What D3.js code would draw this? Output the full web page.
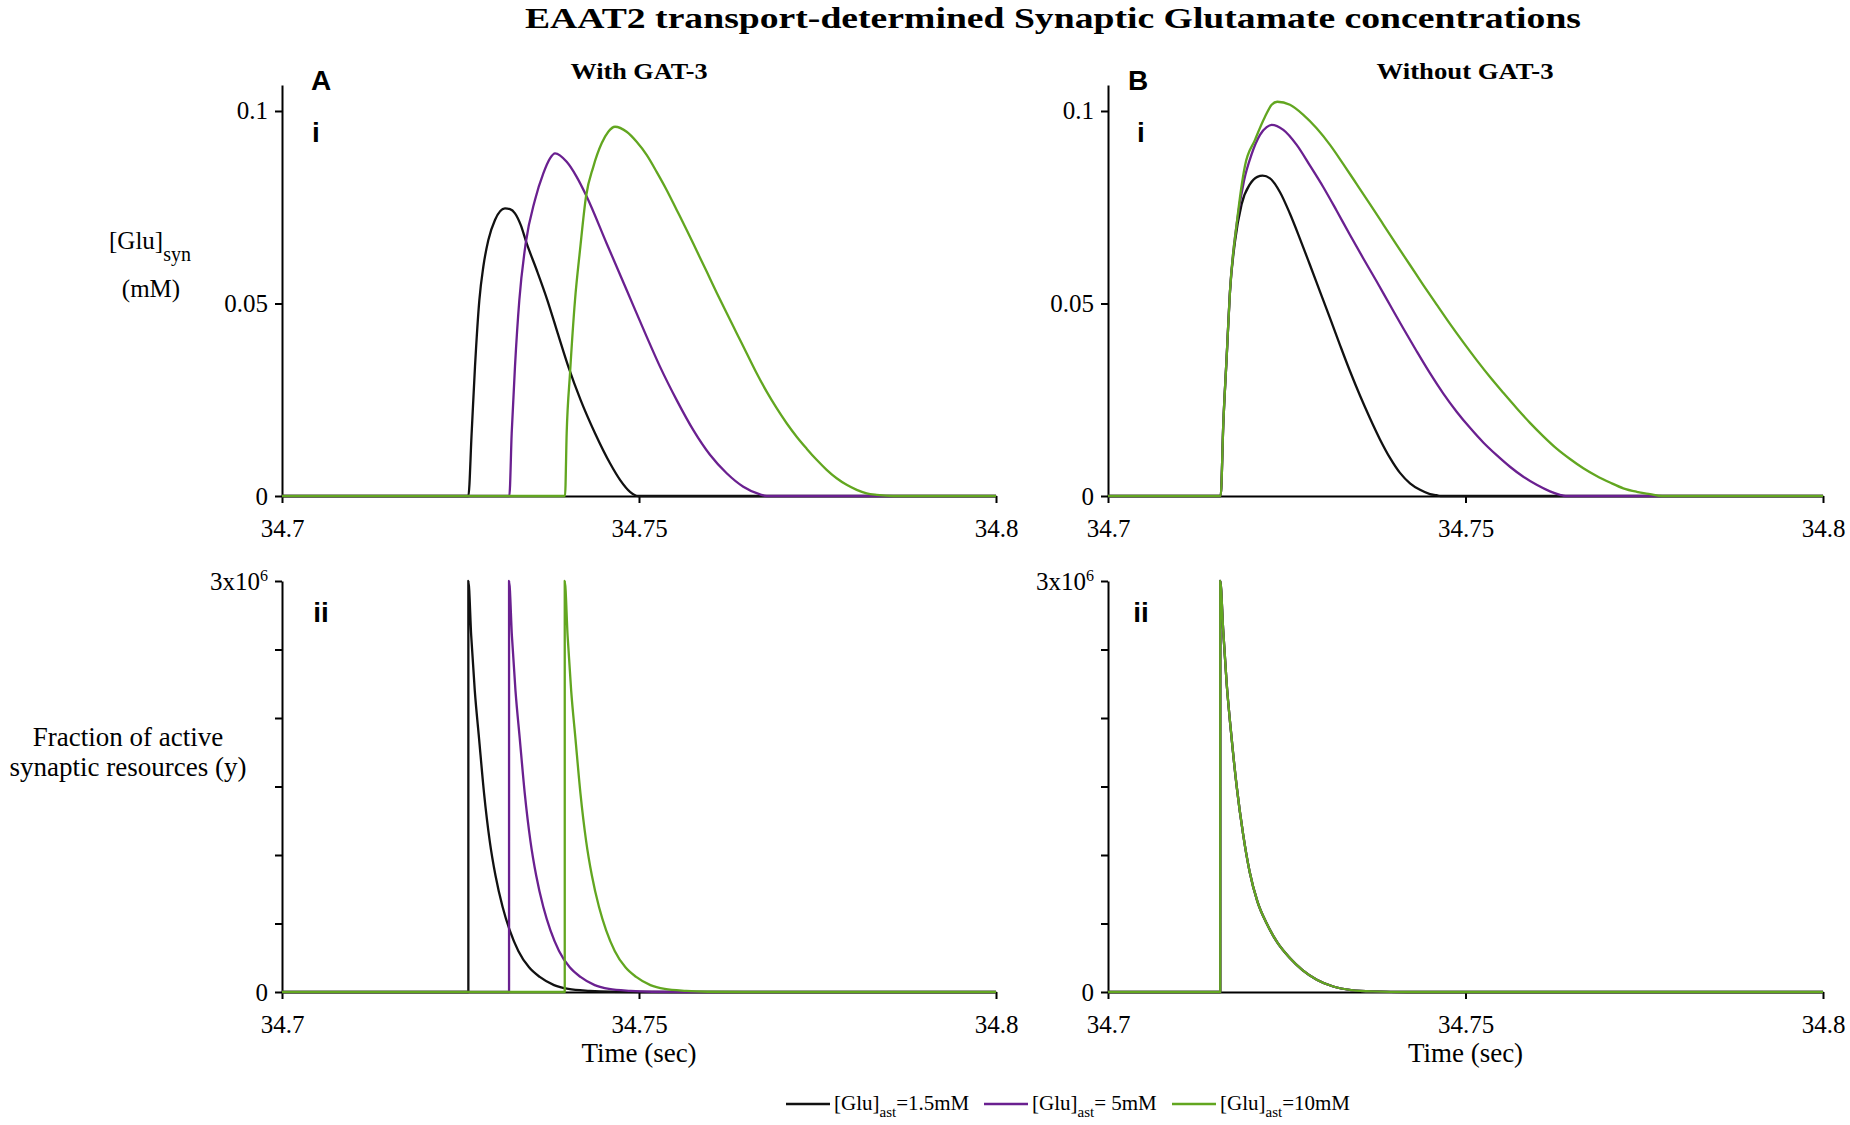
<!DOCTYPE html>
<html>
<head>
<meta charset="utf-8">
<script src="https://cdn.jsdelivr.net/npm/d3@7"></script>
<style>
  body { margin: 0; background: #fff; }
  svg { display: block; }
</style>
</head>
<body>
<svg id="chart" width="1850" height="1125"></svg>
<script>
// values: [time (s), value]
var timeTicks = [34.7, 34.75, 34.8]
var gluTicks = [0, 0.05, 0.1]
var activeTicks = [0, 500000, 1000000, 1500000, 2000000, 2500000, 3000000]
var legendLabels = ["=1.5mM", "= 5mM", "=10mM"]

// A(i) : [Glu]syn with GAT-3
var gluWithBlack = [[34.7,0],[34.7261,0],[34.72656,0.0163],[34.72703,0.0336],[34.72764,0.0509],[34.7282,0.0596],
  [34.7289,0.0665],[34.72983,0.0717],[34.73123,0.0747],[34.73193,0.0745],[34.73263,0.0734],[34.73343,0.0704],
  [34.73427,0.0656],[34.73567,0.0587],[34.73716,0.0509],[34.73861,0.0423],[34.7401,0.0336],[34.74183,0.0249],
  [34.74384,0.0163],[34.74594,0.0085],[34.74734,0.0042],[34.74874,0.0011],[34.74991,0],[34.8,0]]
var gluWithPurple = [[34.7,0],[34.73184,0],[34.73217,0.0163],[34.73263,0.0336],[34.73324,0.0509],[34.73413,0.0656],
  [34.73543,0.0769],[34.7366,0.0838],[34.73754,0.0877],[34.73824,0.089],[34.73987,0.0868],[34.74127,0.0829],
  [34.74267,0.0778],[34.74547,0.0656],[34.74827,0.0535],[34.75107,0.0414],[34.75294,0.0336],[34.75528,0.0249],
  [34.75761,0.0171],[34.75994,0.0107],[34.76228,0.0059],[34.76461,0.0024],[34.76695,0.0004],[34.76788,0],[34.8,0]]
var gluWithGreen = [[34.7,0],[34.73964,0],[34.73987,0.0163],[34.74034,0.0319],[34.74104,0.0509],[34.74174,0.0639],
  [34.74258,0.0778],[34.7436,0.0855],[34.74477,0.0916],[34.7457,0.0946],[34.74664,0.0959],[34.74827,0.0946],
  [34.74967,0.092],[34.75107,0.0886],[34.75247,0.0842],[34.75387,0.0795],[34.75528,0.0743],[34.75668,0.0691],
  [34.75808,0.0637],[34.75948,0.0583],[34.76088,0.0528],[34.76228,0.0475],[34.76368,0.0423],[34.76508,0.0371],
  [34.76648,0.0319],[34.76788,0.0271],[34.76928,0.0228],[34.77068,0.0189],[34.77208,0.0154],[34.77348,0.0123],
  [34.77488,0.0094],[34.77628,0.0068],[34.77768,0.0046],[34.77908,0.0029],[34.78049,0.0016],[34.78189,0.0007],
  [34.78329,0.0003],[34.78562,0],[34.8,0]]

// B(i) : [Glu]syn without GAT-3
var gluWithoutBlack = [[34.7,0],[34.71576,0],[34.71613,0.0189],[34.7166,0.0362],[34.71706,0.0531],[34.71776,0.0661],
  [34.71869,0.0758],[34.71986,0.081],[34.72089,0.0829],[34.72163,0.0832],[34.72266,0.0825],[34.72406,0.0789],
  [34.72545,0.0733],[34.72685,0.0668],[34.72825,0.06],[34.72965,0.0531],[34.73105,0.0462],[34.73245,0.0392],
  [34.73385,0.0324],[34.73524,0.0261],[34.73664,0.0202],[34.73804,0.0147],[34.73944,0.0099],[34.74084,0.006],
  [34.74224,0.0033],[34.74364,0.0016],[34.74503,0.0005],[34.74597,0.0002],[34.7465,0],[34.8,0]]
var gluWithoutPurple = [[34.7,0],[34.71576,0],[34.71613,0.0189],[34.7166,0.0362],[34.71706,0.0531],[34.718,0.0707],
  [34.71902,0.0819],[34.72009,0.0888],[34.72126,0.0938],[34.72219,0.0958],[34.72289,0.0964],[34.72452,0.0951],
  [34.72639,0.0912],[34.72825,0.0858],[34.73012,0.0802],[34.73198,0.0741],[34.73385,0.0678],[34.73571,0.0617],
  [34.73758,0.0557],[34.73944,0.0496],[34.74131,0.0435],[34.74317,0.0376],[34.74503,0.0319],[34.7469,0.0266],
  [34.74876,0.0219],[34.75063,0.0177],[34.75249,0.0139],[34.75436,0.0106],[34.75622,0.0076],[34.75809,0.005],
  [34.75995,0.0029],[34.76182,0.0012],[34.76322,0.0003],[34.764,0],[34.8,0]]
var gluWithoutGreen = [[34.7,0],[34.71576,0],[34.71613,0.0189],[34.7166,0.0362],[34.71706,0.0531],[34.718,0.0707],
  [34.71916,0.0858],[34.72056,0.0925],[34.72196,0.0985],[34.72289,0.1016],[34.72368,0.1024],[34.72545,0.1016],
  [34.72732,0.099],[34.72918,0.0955],[34.73105,0.0912],[34.73291,0.0862],[34.73478,0.081],[34.73664,0.0758],
  [34.73851,0.0705],[34.74037,0.0652],[34.74224,0.06],[34.7441,0.0548],[34.74597,0.0497],[34.74783,0.0447],
  [34.7497,0.0399],[34.75156,0.0353],[34.75343,0.0309],[34.75529,0.0268],[34.75716,0.0228],[34.75902,0.019],
  [34.76089,0.0155],[34.76275,0.0123],[34.76462,0.0096],[34.76648,0.0072],[34.76834,0.0052],[34.77021,0.0035],
  [34.77207,0.002],[34.77394,0.0011],[34.7758,0.0005],[34.7775,0],[34.8,0]]

// A(ii) : active synaptic resources with GAT-3
var activeWithBlack = [[34.7,0],[34.7261,0],[34.7261,3000000],[34.7265,2600000],[34.727,2200000],[34.7276,1850000],
  [34.7283,1450000],[34.7291,1100000],[34.7299,850000],[34.7309,620000],[34.7319,450000],[34.7331,300000],
  [34.7346,180000],[34.7361,110000],[34.7381,50000],[34.7401,22000],[34.7431,8000],[34.7461,2000],[34.7511,0],[34.8,0]]
var activeWithPurple = [[34.7,0],[34.7318,0],[34.7318,3000000],[34.7322,2600000],[34.7327,2200000],[34.7333,1850000],
  [34.734,1450000],[34.7348,1100000],[34.7356,850000],[34.7366,620000],[34.7376,450000],[34.7388,300000],
  [34.7403,180000],[34.7418,110000],[34.7438,50000],[34.7458,22000],[34.7488,8000],[34.7518,2000],[34.7568,0],[34.8,0]]
var activeWithGreen = [[34.7,0],[34.7396,0],[34.7396,3000000],[34.74,2600000],[34.7405,2200000],[34.7411,1850000],
  [34.7418,1450000],[34.7426,1100000],[34.7434,850000],[34.7444,620000],[34.7454,450000],[34.7466,300000],
  [34.7481,180000],[34.7496,110000],[34.7516,50000],[34.7536,22000],[34.7566,8000],[34.7596,2000],[34.7646,0],[34.8,0]]

// B(ii) : the three concentrations lie on top of each other
var activeWithout = [[34.7,0],[34.7157,0],[34.7157,3000000],[34.7161,2650000],[34.7166,2250000],[34.7172,1900000],
  [34.718,1500000],[34.7189,1150000],[34.7198,880000],[34.7209,660000],[34.7222,500000],[34.7237,360000],
  [34.7254,250000],[34.7272,160000],[34.7292,90000],[34.7315,40000],[34.734,14000],[34.737,4000],[34.742,0],[34.8,0]]

var colors = ["#111111", "#6a2090", "#62a620"]
var serif = "'Liberation Serif', 'Times New Roman', serif"
var sans = "'Liberation Sans', Arial, sans-serif"

var svg = d3.select("#chart")

var columns = [ { left: 282, right: 996 }, { left: 1108, right: 1823 } ]
var rows = [ { bottom: 496, top: 85 }, { bottom: 992, top: 581 } ]


function drawPanel( col, row, yDomain, yTickValues, yFormat, series ){

  let x = d3.scaleLinear().domain([34.7, 34.8]).range([col.left, col.right])
  let y = d3.scaleLinear().domain(yDomain).range([row.bottom, row.top])

  let gx = svg.append("g")
              .attr("transform", "translate(0," + row.bottom + ")")
              .call(d3.axisBottom(x)
                      .tickValues(timeTicks)
                      .tickFormat(d => d3.format("")(d))
                      .tickSize(7)
                      .tickSizeOuter(0)
                      .tickPadding(16))
  let gy = svg.append("g")
              .attr("transform", "translate(" + col.left + ",0)")
              .call(d3.axisLeft(y)
                      .tickValues(yTickValues)
                      .tickFormat(yFormat)
                      .tickSize(7)
                      .tickSizeOuter(0)
                      .tickPadding(7))

  ;[gx, gy].forEach(function( g ){
    g.attr("font-family", serif).attr("font-size", 25)
    g.selectAll("path, line").attr("stroke", "#000").attr("stroke-width", 2)
    g.selectAll("text").attr("fill", "#000")
  })

  let line = d3.line()
               .x(d => x(d[0]))
               .y(d => y(d[1]))
               .curve(d3.curveMonotoneX)

  series.forEach(function( s, i ){
    svg.append("path")
       .datum(s)
       .attr("fill", "none")
       .attr("stroke", colors[i])
       .attr("stroke-width", 2.3)
       .attr("stroke-linejoin", "round")
       .attr("d", line)
  })

  return gy
}

var gluFormat = d => d3.format("")(d)
var activeFormat = d => d === 0 ? "0" : ""

drawPanel(columns[0], rows[0], [0, 0.10675], gluTicks, gluFormat, [gluWithBlack, gluWithPurple, gluWithGreen])
drawPanel(columns[1], rows[0], [0, 0.10675], gluTicks, gluFormat, [gluWithoutBlack, gluWithoutPurple, gluWithoutGreen])
var axA = drawPanel(columns[0], rows[1], [0, 3000000], activeTicks, activeFormat, [activeWithBlack, activeWithPurple, activeWithGreen])
var axB = drawPanel(columns[1], rows[1], [0, 3000000], activeTicks, activeFormat, [activeWithout, activeWithout, activeWithout])

// "3x10^6" label on the top tick
;[axA, axB].forEach(function( g ){
  let t = g.selectAll(".tick").filter(d => d === 3000000).select("text")
  t.append("tspan").text("3x10")
  t.append("tspan").attr("dy", "-0.55em").attr("font-size", 16).text("6")
})


// titles and labels
svg.append("text")
   .attr("x", 525).attr("y", 28)
   .attr("textLength", 1056).attr("lengthAdjust", "spacingAndGlyphs")
   .attr("font-family", serif).attr("font-weight", "bold").attr("font-size", 29)
   .text("EAAT2 transport-determined Synaptic Glutamate concentrations")

var subtitles = [ { x: 639, text: "With GAT-3", len: 137 }, { x: 1465, text: "Without GAT-3", len: 177 } ]
subtitles.forEach(function( s ){
  svg.append("text")
     .attr("x", s.x).attr("y", 79)
     .attr("text-anchor", "middle")
     .attr("textLength", s.len).attr("lengthAdjust", "spacingAndGlyphs")
     .attr("font-family", serif).attr("font-weight", "bold").attr("font-size", 24)
     .text(s.text)
})

var panelTags = [
  { x: 321, y: 90, t: "A" }, { x: 316, y: 142, t: "i" }, { x: 321, y: 622, t: "ii" },
  { x: 1138, y: 90, t: "B" }, { x: 1141, y: 142, t: "i" }, { x: 1141, y: 622, t: "ii" }
]
panelTags.forEach(function( p ){
  svg.append("text")
     .attr("x", p.x).attr("y", p.y)
     .attr("text-anchor", "middle")
     .attr("font-family", sans).attr("font-weight", "bold").attr("font-size", 28)
     .text(p.t)
})

var gluLabel = svg.append("text")
                  .attr("x", 150).attr("y", 249)
                  .attr("text-anchor", "middle")
                  .attr("font-family", serif).attr("font-size", 25)
gluLabel.append("tspan").text("[Glu]")
gluLabel.append("tspan").attr("dy", 12).attr("font-size", 20).text("syn")
svg.append("text")
   .attr("x", 151).attr("y", 297)
   .attr("text-anchor", "middle")
   .attr("font-family", serif).attr("font-size", 25)
   .text("(mM)")

;["Fraction of active", "synaptic resources (y)"].forEach(function( s, i ){
  svg.append("text")
     .attr("x", 128).attr("y", 746 + i * 30)
     .attr("text-anchor", "middle")
     .attr("font-family", serif).attr("font-size", 27)
     .text(s)
})

columns.forEach(function( c ){
  svg.append("text")
     .attr("x", (c.left + c.right) / 2).attr("y", 1062)
     .attr("text-anchor", "middle")
     .attr("font-family", serif).attr("font-size", 27)
     .text("Time (sec)")
})


// legend
var legendX = [786, 984, 1172]
legendLabels.forEach(function( lab, i ){
  let lx = legendX[i]
  svg.append("line")
     .attr("x1", lx).attr("x2", lx + 44)
     .attr("y1", 1104).attr("y2", 1104)
     .attr("stroke", colors[i]).attr("stroke-width", 2.5)
  let t = svg.append("text")
             .attr("x", lx + 48).attr("y", 1110)
             .attr("font-family", serif).attr("font-size", 21)
  t.append("tspan").text("[Glu]")
  t.append("tspan").attr("dy", 7).attr("font-size", 15).text("ast")
  t.append("tspan").attr("dy", -7).text(lab)
})
</script>
</body>
</html>
